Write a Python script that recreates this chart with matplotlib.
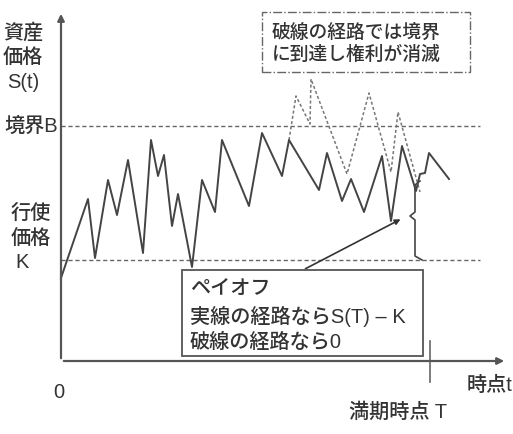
import matplotlib.pyplot as plt
from matplotlib.patches import Rectangle

plt.rcParams['font.family'] = ['Liberation Sans', 'Noto Sans CJK JP']
plt.rcParams['font.weight'] = 'medium'

# 実線の経路 (時点t, 資産価格S)
solid_t = [0.0, 2.7, 3.4, 4.7, 5.6, 6.7, 8.2, 9.0, 9.7, 10.3, 11.1, 11.7, 13.1,
           14.1, 15.4, 16.1, 18.8, 20.1, 22.1, 22.8, 25.8, 26.6, 28.1, 29.0,
           30.3, 32.1, 33.0, 34.1, 35.5, 35.9, 36.4, 36.8, 38.8]
solid_s = [8.3, 16.2, 10.3, 18.1, 14.6, 20.1, 10.8, 22.1, 18.5, 20.6, 13.5, 16.7,
           9.4, 18.1, 14.9, 22.1, 15.5, 22.8, 18.5, 22.1, 17.1, 20.8, 16.0, 18.2,
           14.9, 20.5, 14.0, 21.5, 17.0, 18.7, 18.8, 20.8, 18.2]

# 破線の経路
dash_t = [22.8, 23.5, 24.9, 25.0, 28.6, 30.8, 33.0, 33.7, 35.9]
dash_s = [22.1, 26.5, 23.7, 28.2, 18.7, 26.8, 18.9, 24.9, 16.9]

B = 23.5
K = 10.1
T = 36.9

# ペイオフの括弧
brace_t = [35.9, 35.4, 35.4, 34.9, 35.4, 35.4, 36.1]
brace_s = [18.0, 17.6, 14.9, 14.5, 14.1, 10.5, 10.1]

fig = plt.figure(figsize=(5.13, 4.35), dpi=100)
ax = fig.add_axes([0, 0, 1, 1])
ax.set_xlim(-6.1, 45.2)
ax.set_ylim(-7.3, 36.2)
ax.axis('off')

tc = '#333333'
fs = 14.5

# 軸
ax.annotate('', xy=(44.6, 0), xytext=(0, 0),
            arrowprops=dict(arrowstyle='-|>', color='#555555', lw=1.6, mutation_scale=10))
ax.annotate('', xy=(0, 35.0), xytext=(0, 0),
            arrowprops=dict(arrowstyle='-|>', color='#555555', lw=1.6, mutation_scale=10))
ax.plot([T, T], [2.0, -2.1], color='#666666', lw=1.2)

# 境界と行使価格
ax.plot([0, 41.9], [B, B], color='#666666', lw=1, linestyle=(0, (3, 2)))
ax.plot([0, 41.9], [K, K], color='#666666', lw=1, linestyle=(0, (3, 2)))

ax.plot(dash_t, dash_s, color='#777777', lw=1.1, linestyle=(0, (2, 1.5)))
ax.plot(solid_t, solid_s, color='#444444', lw=1.4)
ax.plot(brace_t, brace_s, color='#444444', lw=1.2)

# 上の注記
ax.add_patch(Rectangle((20.1, 28.9), 20.8, 6.0, fill=False, edgecolor='#666666',
                       lw=1, linestyle='-.'))
ax.text(21.1, 32.9, '破線の経路では境界', fontsize=13.5, color=tc, va='center')
ax.text(21.1, 30.7, 'に到達し権利が消滅', fontsize=13.5, color=tc, va='center')

# ペイオフの箱
ax.annotate('', xy=(34.2, 14.3), xytext=(24.2, 9.1),
            arrowprops=dict(arrowstyle='-|>', color='#333333', lw=1.2, mutation_scale=8))
ax.add_patch(Rectangle((12.1, 0.5), 24.1, 8.6, facecolor='white', edgecolor='#555555',
                       lw=1.3, zorder=3))
ax.text(12.9, 7.4, 'ペイオフ', fontsize=fs, color=tc, va='center', zorder=4)
ax.text(12.9, 4.6, '実線の経路ならS(T) – K', fontsize=fs, color=tc, va='center', zorder=4)
ax.text(12.9, 2.0, '破線の経路なら0', fontsize=fs, color=tc, va='center', zorder=4)

# 左のラベル
ax.text(-3.8, 32.9, '資産', fontsize=fs, color=tc, ha='center', va='center')
ax.text(-3.8, 30.4, '価格', fontsize=fs, color=tc, ha='center', va='center')
ax.text(-3.8, 28.0, 'S(t)', fontsize=fs, color=tc, ha='center', va='center')
ax.text(-0.3, B, '境界B', fontsize=fs, color=tc, ha='right', va='center')
ax.text(-3.0, 14.9, '行使', fontsize=fs, color=tc, ha='center', va='center')
ax.text(-3.0, 12.3, '価格', fontsize=fs, color=tc, ha='center', va='center')
ax.text(-3.9, 9.9, 'K', fontsize=fs, color=tc, ha='center', va='center')

# 下のラベル
ax.text(-0.2, -3.1, '0', fontsize=fs, color=tc, ha='center', va='center')
ax.text(40.6, -2.3, '時点t', fontsize=fs, color=tc, ha='left', va='center')
ax.text(33.7, -5.0, '満期時点 T', fontsize=fs, color=tc, ha='center', va='center')

fig.savefig('out.png', dpi=100)
